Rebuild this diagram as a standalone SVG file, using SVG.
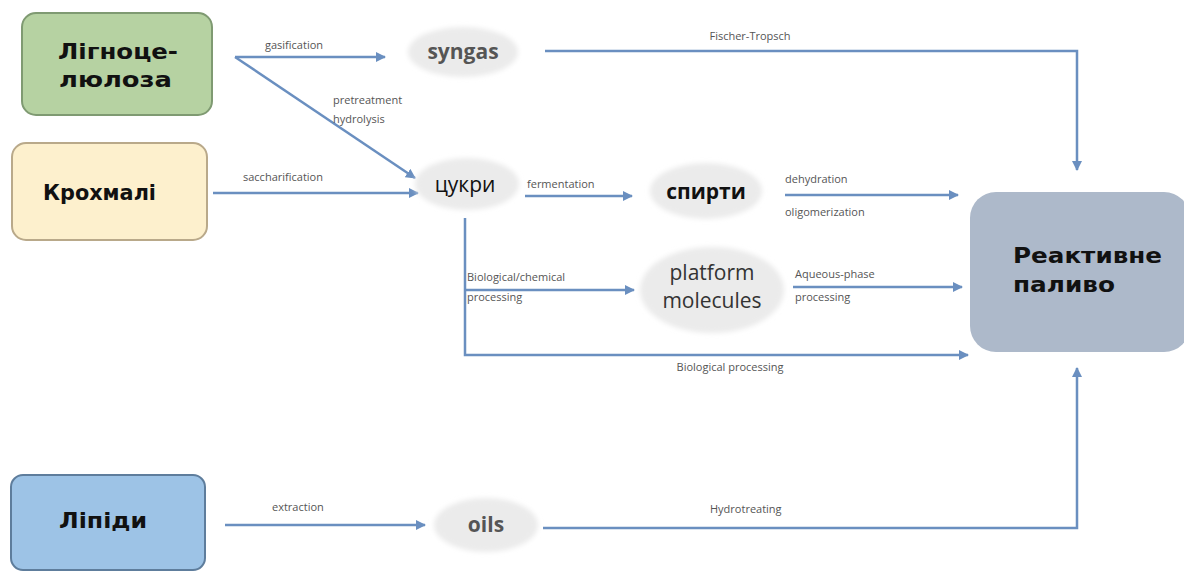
<svg xmlns="http://www.w3.org/2000/svg" width="1184" height="571" viewBox="0 0 1184 571">
<style>
.box{stroke-width:2}
.big{font-family:"DejaVu Sans","Liberation Sans",sans-serif;font-weight:bold;font-size:21px;fill:#111}
.ell{fill:#ebebeb;filter:url(#blur)}
.et{font-family:"Open Sans","Liberation Sans",sans-serif;font-size:21px;text-anchor:middle}
.lbl{font-family:"Open Sans","Liberation Sans",sans-serif;font-size:11px;fill:#555}
.ln{fill:none;stroke:#6a8fc0;stroke-width:2.5}
</style>
<defs>
<marker id="ah" viewBox="0 0 10 10" refX="9" refY="5" markerWidth="4" markerHeight="4" orient="auto">
<path d="M0,0 L10,5 L0,10 z" fill="#6a8fc0"/>
</marker>
<filter id="blur" x="-20%" y="-30%" width="140%" height="160%"><feGaussianBlur stdDeviation="2.5"/></filter>
</defs>
<rect width="1184" height="571" fill="#fff"/>

<g id="connectors">
<path class="ln" d="M235,57 L385,57" marker-end="url(#ah)"/>
<path class="ln" d="M235,57 L415,178" marker-end="url(#ah)"/>
<path class="ln" d="M213,193 L418,193" marker-end="url(#ah)"/>
<path class="ln" d="M545,51 L1077,51 L1077,170" marker-end="url(#ah)"/>
<path class="ln" d="M525,196 L632,196" marker-end="url(#ah)"/>
<path class="ln" d="M785,195 L958,195" marker-end="url(#ah)"/>
<path class="ln" d="M465,218 L465,355 L968,355" marker-end="url(#ah)"/>
<path class="ln" d="M465,290 L634,290" marker-end="url(#ah)"/>
<path class="ln" d="M793,287 L962,287" marker-end="url(#ah)"/>
<path class="ln" d="M225,525 L425,525" marker-end="url(#ah)"/>
<path class="ln" d="M543,528 L1077,528 L1077,368" marker-end="url(#ah)"/>
<text class="lbl" x="265" y="49">gasification</text>
<text class="lbl" x="333" y="104">pretreatment</text>
<text class="lbl" x="333" y="123">hydrolysis</text>
<text class="lbl" x="243" y="181">saccharification</text>
<text class="lbl" x="750" y="40" text-anchor="middle">Fischer-Tropsch</text>
<text class="lbl" x="527" y="188">fermentation</text>
<text class="lbl" x="785" y="183">dehydration</text>
<text class="lbl" x="785" y="216">oligomerization</text>
<text class="lbl" x="467" y="281">Biological/chemical</text>
<text class="lbl" x="467" y="301">processing</text>
<text class="lbl" x="795" y="278">Aqueous-phase</text>
<text class="lbl" x="795" y="301">processing</text>
<text class="lbl" x="730" y="371" text-anchor="middle">Biological processing</text>
<text class="lbl" x="272" y="511">extraction</text>
<text class="lbl" x="710" y="513">Hydrotreating</text>
</g>

<g id="lignocellulose">
<rect class="box" x="22" y="13" width="190" height="102" rx="14" fill="#b6d2a2" stroke="#7f9a72"/>
<text class="big" x="58" y="59" textLength="120" lengthAdjust="spacingAndGlyphs">Лігноце-</text>
<text class="big" x="59" y="87" textLength="113" lengthAdjust="spacingAndGlyphs">люлоза</text>
</g>
<g id="starch">
<rect class="box" x="12" y="143" width="195" height="97" rx="14" fill="#fdf0cd" stroke="#b9a98a"/>
<text class="big" x="43" y="200" textLength="113" lengthAdjust="spacingAndGlyphs">Крохмалі</text>
</g>
<g id="lipids">
<rect class="box" x="11" y="475" width="194" height="95" rx="12" fill="#9dc3e6" stroke="#5e7d9c"/>
<text class="big" x="59" y="528" textLength="88" lengthAdjust="spacingAndGlyphs">Ліпіди</text>
</g>
<g id="jetfuel">
<rect x="970" y="192" width="220" height="160" rx="26" fill="#adb9ca"/>
<text class="big" x="1013" y="263" textLength="149" lengthAdjust="spacingAndGlyphs">Реактивне</text>
<text class="big" x="1013" y="292" textLength="102" lengthAdjust="spacingAndGlyphs">паливо</text>
</g>

<g id="syngas">
<ellipse class="ell" cx="463" cy="52" rx="55" ry="25"/>
<text class="et" x="463" y="59" font-weight="bold" fill="#555" font-size="20">syngas</text>
</g>
<g id="sugars">
<ellipse class="ell" cx="467" cy="184" rx="52" ry="26"/>
<text class="et" x="465" y="192" fill="#111" font-size="24">цукри</text>
</g>
<g id="alcohols">
<ellipse class="ell" cx="706" cy="191" rx="56" ry="28"/>
<text class="et" x="706" y="199" font-weight="bold" fill="#111">спирти</text>
</g>
<g id="platform">
<ellipse class="ell" cx="712" cy="290" rx="72" ry="43"/>
<text class="et" x="712" y="280" fill="#333">platform</text>
<text class="et" x="712" y="308" fill="#333">molecules</text>
</g>
<g id="oils">
<ellipse class="ell" cx="486" cy="525" rx="52" ry="27"/>
<text class="et" x="486" y="532" font-weight="bold" fill="#555" font-size="20">oils</text>
</g>
</svg>
